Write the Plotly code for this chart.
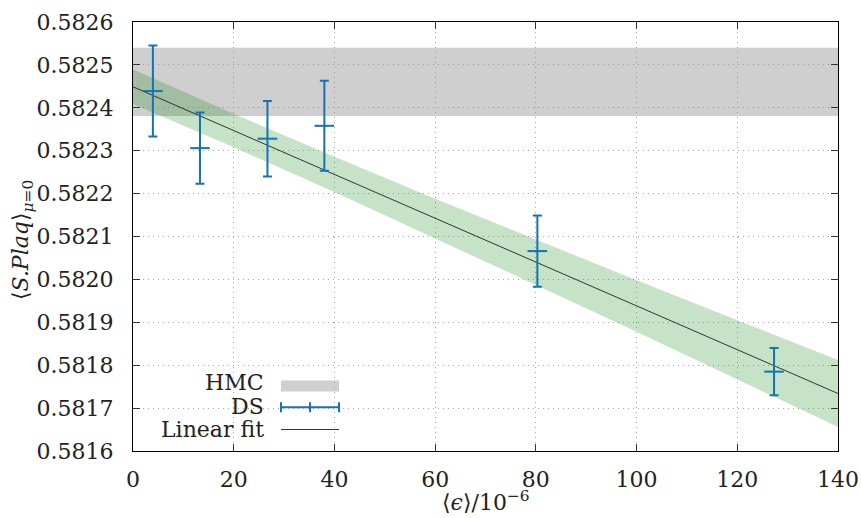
import plotly.graph_objects as go

# ---- data ----
ds_x = [3.95, 13.3, 26.7, 38.0, 80.3, 127.3]
ds_y = [0.582439, 0.582306, 0.582328, 0.582358, 0.582066, 0.581785]
ds_err = [0.000106, 0.000083, 0.000088, 0.000105, 0.000083, 0.000055]

hmc_x = [0, 140]
hmc_lo = [0.582381, 0.582381]
hmc_hi = [0.582540, 0.582540]

fit_x = [0, 140]
fit_y = [0.582449, 0.581734]

band_x = [0, 20, 40, 60, 80, 100, 120, 140]
band_hi = [0.582489, 0.582386, 0.582286, 0.582188, 0.582093, 0.581998, 0.581905, 0.581812]
band_lo = [0.582409, 0.582308, 0.582204, 0.582096, 0.581987, 0.581878, 0.581767, 0.581656]

x_ticks = [0, 20, 40, 60, 80, 100, 120, 140]
y_ticks = [0.5816 + 0.0001 * i for i in range(11)]

BLUE = "#1572b3"
GRAY = "rgba(128,128,128,0.38)"
GREEN = "rgba(20,140,20,0.24)"
FONT = "DejaVu Serif"
FS = 22

fig = go.Figure()

# HMC band
fig.add_trace(go.Scatter(
    x=hmc_x + hmc_x[::-1], y=hmc_hi + hmc_lo[::-1],
    fill="toself", fillcolor=GRAY, line=dict(width=0), mode="lines",
    hoverinfo="skip", showlegend=False))

# fit error band
fig.add_trace(go.Scatter(
    x=band_x + band_x[::-1], y=band_hi + band_lo[::-1],
    fill="toself", fillcolor=GREEN, line=dict(width=0), mode="lines",
    hoverinfo="skip", showlegend=False))

# linear fit line
fig.add_trace(go.Scatter(
    x=fit_x, y=fit_y, mode="lines",
    line=dict(color="#333333", width=1), showlegend=False))

# DS points
fig.add_trace(go.Scatter(
    x=ds_x, y=ds_y, mode="markers",
    marker=dict(symbol="line-ew", size=14, color=BLUE,
                line=dict(color=BLUE, width=2)),
    error_y=dict(type="data", array=ds_err, visible=True,
                 color=BLUE, thickness=2, width=4.5),
    showlegend=False))

axis_common = dict(
    showline=True, linecolor="black", linewidth=1.3, mirror="allticks",
    ticks="inside", ticklen=7, tickcolor="#333333", tickwidth=1,
    showgrid=True, gridcolor="#a8a8a8", griddash="1px,4px", gridwidth=1,
    zeroline=False, tickfont=dict(family=FONT, size=FS, color="#222222"),
)

fig.update_xaxes(range=[0, 140], tickvals=x_ticks,
                 ticktext=[str(v) for v in x_ticks], ticklabelstandoff=8,
                 **axis_common)
fig.update_yaxes(range=[0.5816, 0.5826], tickvals=y_ticks,
                 ticktext=["%.4f" % v for v in y_ticks], ticklabelstandoff=14,
                 **axis_common)

# legend (gnuplot style: text right, sample left)
plot_l, plot_r, plot_t, plot_b = 133, 838, 22, 451
W = plot_r - plot_l
H = plot_b - plot_t


def px(xp):
    return (xp - plot_l) / W


def py(yp):
    return (plot_b - yp) / H


leg_text_x = 266
leg_s0, leg_s1 = 281, 339
rows = [("HMC", 382.5), ("DS", 406.0), ("Linear fit", 429.0)]
ann = []
for label, yy in rows:
    ann.append(dict(x=px(leg_text_x), y=py(yy), xref="paper", yref="paper",
                    text=label, showarrow=False, xanchor="right", yanchor="middle",
                    font=dict(family=FONT, size=FS, color="#222222")))

shapes = [
    dict(type="rect", xref="paper", yref="paper", x0=px(leg_s0), x1=px(leg_s1),
         y0=py(391.5), y1=py(380.5), fillcolor=GRAY, line=dict(width=0)),
    dict(type="line", xref="paper", yref="paper", x0=px(leg_s0), x1=px(leg_s1),
         y0=py(407.3), y1=py(407.3), line=dict(color=BLUE, width=2)),
    dict(type="line", xref="paper", yref="paper", x0=px(leg_s0), x1=px(leg_s0),
         y0=py(402.3), y1=py(412.3), line=dict(color=BLUE, width=2)),
    dict(type="line", xref="paper", yref="paper", x0=px(leg_s1), x1=px(leg_s1),
         y0=py(402.3), y1=py(412.3), line=dict(color=BLUE, width=2)),
    dict(type="line", xref="paper", yref="paper", x0=px(310), x1=px(310),
         y0=py(402.3), y1=py(412.3), line=dict(color=BLUE, width=2)),
    dict(type="line", xref="paper", yref="paper", x0=px(leg_s0), x1=px(leg_s1),
         y0=py(429.5), y1=py(429.5), line=dict(color="#333333", width=1)),
]

# axis titles
ann.append(dict(x=px((plot_l + plot_r) / 2), y=py(517), xref="paper", yref="paper",
                text="⟨<i>ϵ</i>⟩/10<sup>−6</sup>", showarrow=False,
                xanchor="center", yanchor="bottom",
                font=dict(family=FONT, size=FS, color="#222222")))
ann.append(dict(x=px(22), y=py(240), xref="paper", yref="paper",
                text="⟨<i>S.Plaq</i>⟩<sub><i>μ</i>=0</sub>", showarrow=False,
                textangle=-90, xanchor="center", yanchor="middle",
                font=dict(family=FONT, size=FS, color="#222222")))

fig.update_layout(
    width=861, height=518,
    margin=dict(l=plot_l, r=861 - plot_r, t=plot_t, b=518 - plot_b, autoexpand=False),
    paper_bgcolor="white", plot_bgcolor="white",
    font=dict(family=FONT),
    showlegend=False, annotations=ann, shapes=shapes,
)

fig.write_html("out.html")
